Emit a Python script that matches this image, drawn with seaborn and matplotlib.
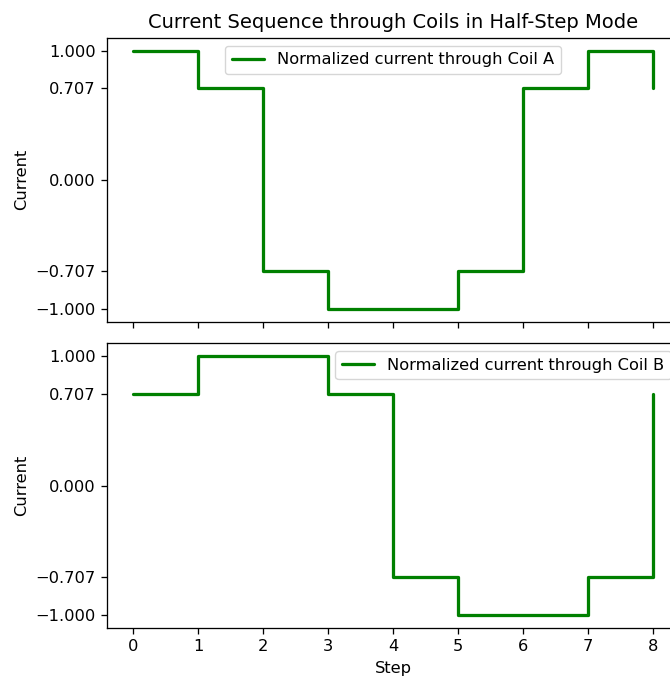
import matplotlib
matplotlib.use("Agg")
import matplotlib.pyplot as plt
import seaborn as sns
import pandas as pd
from matplotlib.ticker import FuncFormatter

steps = [0, 1, 2, 3, 4, 5, 6, 7, 8]
coil_a = [1.0, 0.707, -0.707, -1.0, -1.0, -0.707, 0.707, 1.0, 0.707]
coil_b = [0.707, 1.0, 1.0, 0.707, -0.707, -1.0, -1.0, -0.707, 0.707]
ytick_vals = [-1.0, -0.707, 0.0, 0.707, 1.0]
label_a = "Normalized current through Coil A"
label_b = "Normalized current through Coil B"
title = "Current Sequence through Coils in Half-Step Mode"

sns.set_style("ticks")
S = 1.17
plt.rcParams.update({
    "font.family": ["DejaVu Sans"],
    "text.color": "black",
    "axes.labelcolor": "black",
    "xtick.color": "black",
    "ytick.color": "black",
    "xtick.major.size": 3.5 * S,
    "ytick.major.size": 3.5 * S,
    "xtick.major.width": 0.8 * S,
    "ytick.major.width": 0.8 * S,
    "axes.linewidth": 0.8 * S,
    "xtick.major.pad": 3.5 * S,
    "ytick.major.pad": 3.5 * S,
    "axes.labelpad": 4.0 * S,
    "axes.titlepad": 6.0 * S,
})

fig = plt.figure(figsize=(6.7, 6.76), dpi=100)
ax1 = fig.add_axes([107 / 670, (676 - 321.7) / 676, 572 / 670, 284 / 676])
ax2 = fig.add_axes([107 / 670, (676 - 627.7) / 676, 572 / 670, 284.4 / 676], sharex=ax1)

df_a = pd.DataFrame({"Step": steps, "Current": coil_a})
df_b = pd.DataFrame({"Step": steps, "Current": coil_b})

sns.lineplot(data=df_a, x="Step", y="Current", ax=ax1, color="green",
             linewidth=2 * S, drawstyle="steps-post", label=label_a)
sns.lineplot(data=df_b, x="Step", y="Current", ax=ax2, color="green",
             linewidth=2 * S, drawstyle="steps-post", label=label_b)

fmt = FuncFormatter(lambda v, p: f"{v:.3f}".replace("-", "\u2212"))
for ax in (ax1, ax2):
    ax.set_yticks(ytick_vals)
    ax.yaxis.set_major_formatter(fmt)
    ax.set_ylabel("Current", fontsize=10 * S)
    ax.set_ylim(-1.1, 1.1)
    for s in ax.spines.values():
        s.set_visible(True)
        s.set_color("black")
    ax.tick_params(labelsize=10 * S)

ax1.set_xlim(-0.4, 8.4)
ax1.set_xticks(steps)
ax1.tick_params(labelbottom=False)
ax1.set_xlabel("")
ax2.set_xlabel("Step", fontsize=10 * S)
ax1.set_title(title, fontsize=12 * S)

ax1.legend(loc="upper center", fontsize=10 * S)
ax2.legend(loc="upper right", fontsize=10 * S)

fig.savefig("out.png", dpi=100)
